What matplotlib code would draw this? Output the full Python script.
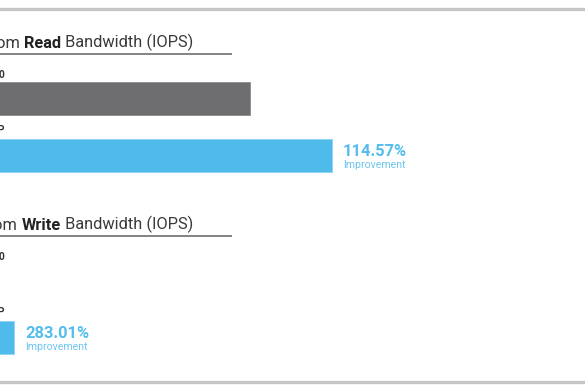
import matplotlib
matplotlib.use("Agg")
import matplotlib.pyplot as plt
from matplotlib.transforms import IdentityTransform

plt.rcParams['font.family'] = ['Roboto', 'DejaVu Sans']

# ---- data (bar lengths in chart units; origin lies left of the visible crop) ----
panel_metrics = ["Read", "Write"]
categories = ["Standard RAID 10", "Optimized RAID w/ CP"]
read_values = [430, 512]
write_values = [140, 194]
improvements = ["114.57%", "283.01%"]

W, H, DPI = 585, 390, 100
fig = plt.figure(figsize=(W / DPI, H / DPI), dpi=DPI)
ax = fig.add_axes([0, 0, 1, 1])
ORIGIN = 180  # pixels of the chart hidden left of the crop
ax.set_xlim(ORIGIN, W + ORIGIN)
ax.set_ylim(H, 0)
ax.axis('off')

def X(p):
    return p + ORIGIN

GREY = '#6e6e70'
BLUE = '#4fbbeb'
TXT_BLUE = '#55bdee'
TXT_BLUE2 = '#6cc5f0'
DARK = '#333333'

# frame lines
ax.axhline(8.5, color='#c6c6c6', lw=2.4)
ax.axhline(381.5, color='#c6c6c6', lw=2.4)

fig.canvas.draw()
renderer = fig.canvas.get_renderer()

section_offset = 182
bar_h = 33
TITLE_FS = 11.8
for i, (metric, vals, imp) in enumerate(zip(panel_metrics, [read_values, write_values], improvements)):
    off = i * section_offset
    tail_x, base_y = ax.transData.transform((X(193), 47.5 + off))
    t3 = fig.text(tail_x, base_y, " Bandwidth (IOPS)", transform=IdentityTransform(),
                  ha='right', va='baseline', fontsize=TITLE_FS, color='#3a3a3a')
    fig.canvas.draw()
    bb = t3.get_window_extent(renderer)
    t2 = fig.text(bb.x0, base_y, metric, transform=IdentityTransform(),
                  ha='right', va='baseline', fontsize=TITLE_FS, fontweight='bold', color='#222222')
    fig.canvas.draw()
    bb2 = t2.get_window_extent(renderer)
    fig.text(bb2.x0, base_y, "Random ", transform=IdentityTransform(),
             ha='right', va='baseline', fontsize=TITLE_FS, color='#3a3a3a')
    # underline
    ax.plot([X(-20), X(232)], [54.3 + off, 54.3 + off], color='#7a7a7a', lw=1.3,
            solid_capstyle='butt')
    # category labels
    label_y = [77.5 + off, 133 + off]
    for ly, cat in zip(label_y, categories):
        ax.text(X(4.5), ly, cat, ha='right', va='baseline', fontsize=7.5,
                fontweight='bold', color=DARK)
    # bars
    centers = [98.5 + off, 155.5 + off]
    ax.barh(centers, vals, height=bar_h, left=0, color=[GREY, BLUE],
            edgecolor=['#8a8a8c', '#8fd3f3'], linewidth=0.6)
    # improvement annotation
    x_text = vals[1] + 11
    ax.text(x_text, 156.5 + off, imp, ha='left', va='baseline', fontsize=11.9,
            fontweight='bold', color=TXT_BLUE)
    ax.text(x_text, 167.5 + off, "Improvement", ha='left', va='baseline', fontsize=7.6,
            color=TXT_BLUE2)

fig.savefig("out.png", dpi=DPI, facecolor='white')
